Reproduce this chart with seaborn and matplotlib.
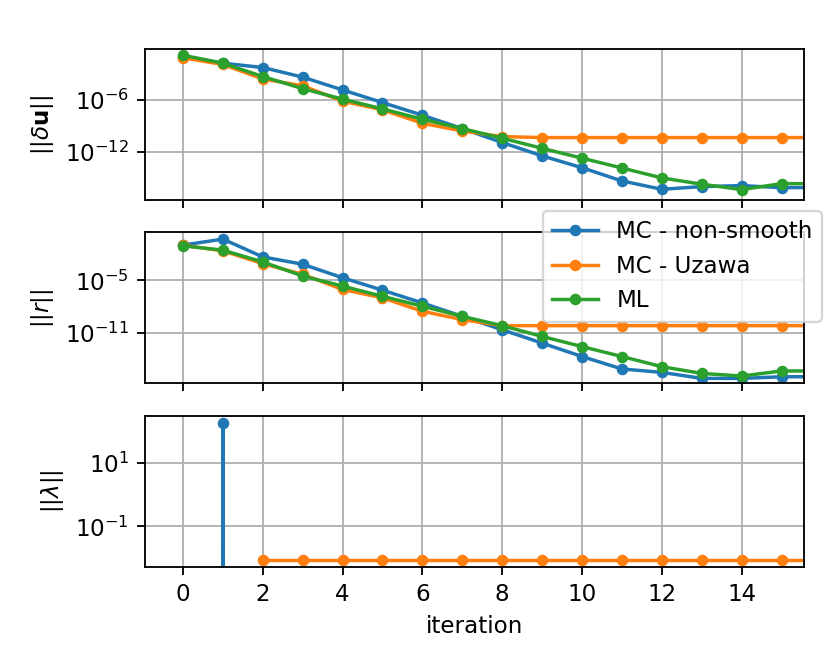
import numpy as np
import pandas as pd
import seaborn as sns
import matplotlib.pyplot as plt
from matplotlib.ticker import NullLocator

iterations = list(range(17))
methods = ["MC - non-smooth", "MC - Uzawa", "ML"]
colors = ["#1f77b4", "#ff7f0e", "#2ca02c"]

# ||du|| per iteration
du_nonsmooth = [1.0e-1, 1.7e-2, 5.4e-3, 4.2e-4, 1.4e-5, 4.9e-7, 1.7e-8, 4.9e-10, 1.2e-11,
                3.5e-13, 1.5e-14, 4.5e-16, 4.9e-17, 1.0e-16, 1.3e-16, 7.6e-17, 7.9e-17]
du_uzawa = [7.1e-2, 1.2e-2, 2.6e-4, 4.2e-5, 7.1e-7, 7.1e-8, 2.0e-9, 2.6e-10, 5.9e-11,
            4.5e-11, 4.5e-11, 4.5e-11, 4.5e-11, 4.5e-11, 4.5e-11, 4.5e-11, 4.5e-11]
du_ml = [1.4e-1, 1.7e-2, 4.9e-4, 2.0e-5, 1.2e-6, 9.1e-8, 5.9e-9, 4.9e-10, 3.8e-11,
         2.6e-12, 1.9e-13, 1.4e-14, 1.0e-15, 1.9e-16, 4.5e-17, 2.2e-16, 2.2e-16]

# ||r|| per iteration
r_nonsmooth = [1.1e-1, 5.4e-1, 4.9e-3, 7.1e-4, 2.0e-5, 7.6e-7, 2.6e-8, 7.6e-10, 2.2e-11,
               6.5e-13, 1.9e-14, 7.1e-16, 2.9e-16, 5.9e-17, 5.9e-17, 9.1e-17, 9.1e-17]
r_uzawa = [1.1e-1, 2.4e-2, 8.3e-4, 4.9e-5, 9.1e-7, 1.0e-7, 2.9e-9, 3.2e-10, 6.5e-11,
           6.5e-11, 6.5e-11, 6.5e-11, 6.5e-11, 6.5e-11, 6.5e-11, 6.5e-11, 6.5e-11]
r_ml = [9.1e-2, 2.9e-2, 1.3e-3, 3.2e-5, 2.2e-6, 1.5e-7, 1.1e-8, 7.6e-10, 6.5e-11,
        3.8e-12, 2.6e-13, 1.9e-14, 1.3e-15, 2.2e-16, 1.1e-16, 4.2e-16, 4.2e-16]

# ||lambda|| per iteration (ML has no multiplier)
lam_nonsmooth = [0, 186, 0, 0, 0, 0, 0, 0, 0, 0, 0, 0, 0, 0, 0, 0, 0]
lam_uzawa = [np.nan, np.nan] + [8.3e-3] * 15

panels = [
    ([du_nonsmooth, du_uzawa, du_ml], r'$||\delta \mathbf{u}||$', (10**-17.57, 10**-0.15), [1e-12, 1e-6]),
    ([r_nonsmooth, r_uzawa, r_ml], r'$||r||$', (10**-16.81, 10**0.5), [1e-11, 1e-5]),
    ([lam_nonsmooth, lam_uzawa, None], r'$||\lambda||$', (10**-2.28, 10**2.51), [1e-1, 1e1]),
]

fig, axes = plt.subplots(3, 1, sharex=True, figsize=(5, 4), dpi=166)
fig.subplots_adjust(left=0.175, right=0.969, top=0.926, bottom=0.1465, hspace=0.213)

for ax, (series, ylabel, ylim, yticks) in zip(axes, panels):
    for name, color, vals in zip(methods, colors, series):
        if vals is None:
            continue
        df = pd.DataFrame({"iteration": iterations, "value": vals})
        sns.lineplot(data=df, x="iteration", y="value", ax=ax, color=color,
                     marker="o", markersize=4, markeredgecolor=color,
                     markeredgewidth=1.0, linewidth=1.5, label=name, legend=False)
    ax.set_yscale("log")
    ax.set_ylim(*ylim)
    ax.set_yticks(yticks)
    ax.yaxis.set_minor_locator(NullLocator())
    ax.set_ylabel(ylabel)
    ax.grid(True)

axes[-1].set_xlim(-0.945, 15.57)
axes[-1].set_xticks(range(0, 15, 2))
axes[-1].set_xlabel("iteration")
for ax in axes[:-1]:
    ax.set_xlabel("")

handles, labels = axes[1].get_legend_handles_labels()
fig.legend(handles, labels, loc="upper right", bbox_to_anchor=(0.9904, 0.6822),
           borderaxespad=0)

fig.savefig("out.png", dpi=166)
